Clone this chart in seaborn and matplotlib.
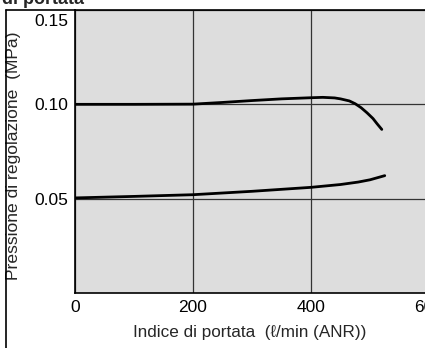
import matplotlib
matplotlib.use("Agg")
import matplotlib.pyplot as plt
import matplotlib.transforms as mtransforms
from matplotlib.lines import Line2D
import pandas as pd
import seaborn as sns

# Regulated pressure vs. flow rate, two set points
flow_high = [0, 100, 200, 250, 300, 350, 400, 420, 440, 450, 465, 475, 485, 495, 505, 512, 520]
press_high = [0.1000, 0.1000, 0.1001, 0.1010, 0.1020, 0.1029, 0.1035, 0.1037, 0.1034,
              0.1029, 0.1018, 0.1003, 0.0982, 0.0955, 0.0925, 0.0897, 0.0867]

flow_low = [0, 100, 200, 300, 400, 450, 480, 500, 525]
press_low = [0.0504, 0.0512, 0.0521, 0.0539, 0.0560, 0.0575, 0.0588, 0.0600, 0.0622]

x_ticks = [0, 200, 400, 600]
y_ticks = [0.05, 0.10, 0.15]
y_tick_labels = ["0.05", "0.10", "0.15"]

sns.set_theme(style="white")
plt.rcParams["font.family"] = ["Liberation Sans", "DejaVu Sans"]

W, H = 425, 348
fig = plt.figure(figsize=(W / 100, H / 100), dpi=100)
fig.patch.set_facecolor("white")

left_px, top_px, bottom_px = 75, 10, 293
x_max = 620
px_per_unit = (429 - 75) / 600
right_px = left_px + x_max * px_per_unit
ax_w_px = right_px - left_px
ax_h_px = bottom_px - top_px
ax = fig.add_axes([left_px / W, 1 - bottom_px / H, ax_w_px / W, ax_h_px / H])
ax.set_facecolor("#dddddd")

df_high = pd.DataFrame({"flow": flow_high, "pressure": press_high})
df_low = pd.DataFrame({"flow": flow_low, "pressure": press_low})
for df in (df_high, df_low):
    sns.lineplot(data=df, x="flow", y="pressure", ax=ax, color="black",
                 linewidth=2.0, estimator=None, sort=True)

ax.set_xlim(0, x_max)
ax.set_ylim(0, 0.15)
ax.set_xticks(x_ticks)
ax.set_yticks(y_ticks)
ax.set_yticklabels(y_tick_labels)
ax.tick_params(axis="both", length=2, width=1, labelsize=12.5, colors="black")
ax.tick_params(axis="x", pad=3)
ax.tick_params(axis="y", pad=3)
ax.grid(True, color="#333333", linewidth=0.9)
ax.set_axisbelow(True)

# Keep the top y label inside the frame
top_label = ax.get_yticklabels()[-1]
top_label.set_verticalalignment("top")
top_label.set_transform(top_label.get_transform() +
                        mtransforms.ScaledTranslation(0, -4 / 100, fig.dpi_scale_trans))

for side in ("left", "bottom", "top", "right"):
    ax.spines[side].set_color("black")
    ax.spines[side].set_linewidth(1.2)

ax.set_xlabel("Indice di portata  (\u2113/min (ANR))", fontsize=12.3)
ax.xaxis.set_label_coords((250 - left_px) / ax_w_px, -(332 - bottom_px) / ax_h_px)
ax.xaxis.label.set_va("center")
ax.set_ylabel("Pressione di regolazione  (MPa)", fontsize=12.6)
ax.yaxis.set_label_coords(-(left_px - 14) / ax_w_px, (bottom_px - 156) / ax_h_px)
ax.yaxis.label.set_va("center")

# Outer frame
fig.add_artist(Line2D([5.5 / W, 5.5 / W], [0, 1 - 10 / H], color="black", linewidth=1.2,
                      transform=fig.transFigure))
fig.add_artist(Line2D([5.5 / W, left_px / W], [1 - 10 / H, 1 - 10 / H], color="black",
                      linewidth=1.2, transform=fig.transFigure))

fig.text(2 / W, 1 - 3.5 / H, "di portata", fontsize=13, fontweight="bold",
         va="baseline", ha="left")

fig.savefig("out.png", dpi=100)
